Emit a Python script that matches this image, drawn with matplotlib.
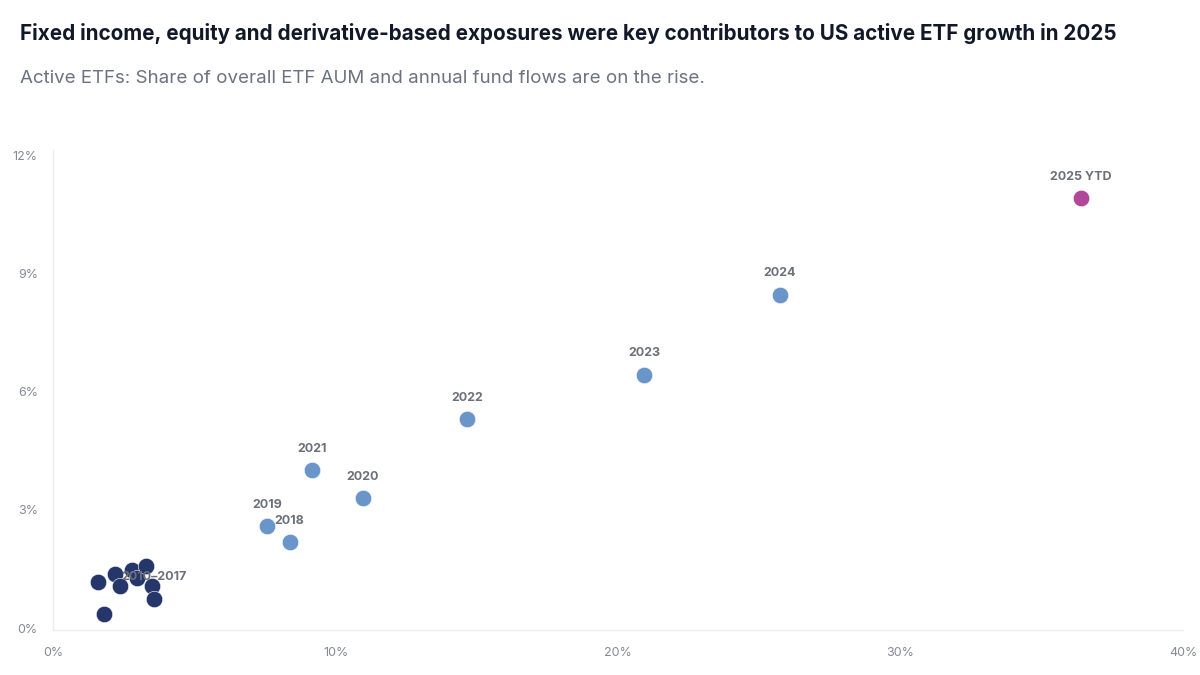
import matplotlib
matplotlib.use("Agg")
import matplotlib.pyplot as plt
from matplotlib.ticker import FuncFormatter

plt.rcParams['font.family'] = ['Inter', 'DejaVu Sans']

# share of annual ETF flows (x, %) vs share of ETF AUM (y, %)
early_x = [1.59, 1.81, 2.19, 2.38, 2.80, 2.98, 3.28, 3.49, 3.59]
early_y = [1.16, 0.35, 1.37, 1.06, 1.46, 1.26, 1.57, 1.06, 0.74]
early_label = "2010–2017"

years = ["2018", "2019", "2020", "2021", "2022", "2023", "2024"]
years_x = [8.37, 7.58, 10.96, 9.17, 14.65, 20.93, 25.72]
years_y = [2.18, 2.58, 3.29, 4.00, 5.30, 6.43, 8.46]

ytd_label = "2025 YTD"
ytd_x = [36.39]
ytd_y = [10.91]

navy = "#25366b"
blue = "#6a95c9"
magenta = "#b0479a"
label_col = "#6b7079"
tick_col = "#858a93"

fig = plt.figure(figsize=(12, 6.75), dpi=100)
ax = fig.add_axes([0.0442, 0.0667, 0.9417, 0.7111])

ax.scatter(early_x, early_y, s=140, color=navy, edgecolor="white", linewidth=0.4, zorder=3)
ax.scatter(years_x, years_y, s=140, color=blue, edgecolor="white", linewidth=0.4, zorder=3)
ax.scatter(ytd_x, ytd_y, s=140, color=magenta, edgecolor="white", linewidth=0.4, zorder=3)

# labels above points
for name, x, y in zip(years, years_x, years_y):
    ax.annotate(name, (x, y), xytext=(0, 11), textcoords="offset points",
                ha="center", va="bottom", fontsize=9, fontweight="bold", color=label_col)
ax.annotate(ytd_label, (ytd_x[0], ytd_y[0]), xytext=(0, 11), textcoords="offset points",
            ha="center", va="bottom", fontsize=9, fontweight="bold", color=label_col)
ax.text(3.58, 1.30, early_label, ha="center", va="center", fontsize=9,
        fontweight="bold", color=label_col, zorder=4)

ax.set_xlim(0, 40)
ax.set_ylim(-0.05, 12.13)
ax.set_xticks([0, 10, 20, 30, 40])
ax.set_yticks([0, 3, 6, 9, 12])
ax.xaxis.set_major_formatter(FuncFormatter(lambda v, p: f"{v:.0f}%"))
ax.yaxis.set_major_formatter(FuncFormatter(lambda v, p: f"{v:.0f}%"))
ax.tick_params(length=0, labelsize=9, labelcolor=tick_col)
ax.tick_params(axis="x", pad=12)
ax.tick_params(axis="y", pad=11)

for side in ["top", "right"]:
    ax.spines[side].set_visible(False)
for side in ["left", "bottom"]:
    ax.spines[side].set_color("#ececee")
    ax.spines[side].set_linewidth(1)

fig.text(0.017, 0.951, "Fixed income, equity and derivative-based exposures were key contributors to US active ETF growth in 2025",
         fontsize=14.85, fontweight="bold", color="#111827", va="center")
fig.text(0.017, 0.884, "Active ETFs: Share of overall ETF AUM and annual fund flows are on the rise.",
         fontsize=13.5, color="#6b7280", va="center")

fig.savefig("out.png", dpi=100)
